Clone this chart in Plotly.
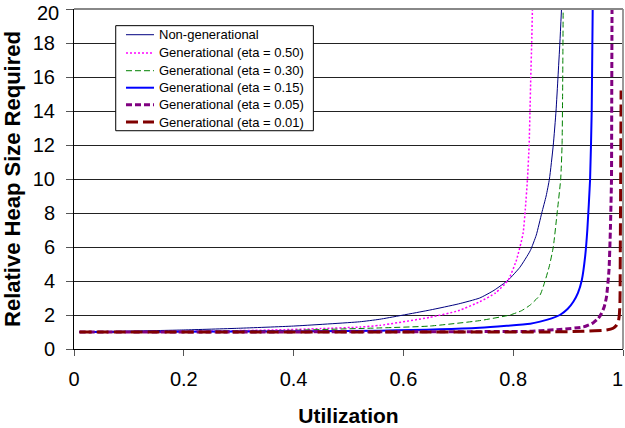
import plotly.graph_objects as go

names = ["Non-generational", "Generational (eta = 0.50)", "Generational (eta = 0.30)",
         "Generational (eta = 0.15)", "Generational (eta = 0.05)", "Generational (eta = 0.01)"]

u_nongen = [0.01, 0.1, 0.2, 0.3, 0.4, 0.52, 0.557, 0.648, 0.70, 0.739, 0.765, 0.791, 0.812, 0.831, 0.842, 0.852, 0.860, 0.866, 0.873, 0.878, 0.8816, 0.885, 0.888]
h_nongen = [1.0, 1.05, 1.12, 1.22, 1.35, 1.6, 1.75, 2.29, 2.65, 3.0, 3.45, 4.06, 4.8, 5.78, 6.7, 8.0, 9.0, 10, 12, 14, 16, 18, 20]

u_e50 = [0.01, 0.2, 0.363, 0.45, 0.521, 0.557, 0.648, 0.70, 0.739, 0.768, 0.791, 0.806, 0.818, 0.822, 0.826, 0.829, 0.8306, 0.832, 0.8337, 0.835]
h_e50 = [1.0, 1.03, 1.12, 1.2, 1.29, 1.39, 1.86, 2.25, 2.78, 3.3, 4.06, 5.24, 6.8, 8.2, 10, 12, 14, 16, 18, 20]

u_e30 = [0.01, 0.2, 0.393, 0.557, 0.648, 0.739, 0.794, 0.815, 0.831, 0.849, 0.858, 0.866, 0.873, 0.880, 0.8865, 0.889, 0.890, 0.891]
h_e30 = [1.0, 1.03, 1.1, 1.24, 1.35, 1.67, 2.0, 2.25, 2.59, 3.18, 4.0, 4.9, 6.0, 8.0, 10, 12, 15, 20]

u_e15 = [0.01, 0.3, 0.557, 0.739, 0.831, 0.849, 0.870, 0.885, 0.899, 0.9095, 0.918, 0.925, 0.931, 0.935, 0.940, 0.943, 0.9448]
h_e15 = [1.0, 1.03, 1.08, 1.25, 1.49, 1.61, 1.8, 2.0, 2.35, 2.78, 3.3, 4.06, 5.43, 7.0, 9.94, 14, 20]

u_e05 = [0.01, 0.5, 0.83, 0.849, 0.885, 0.928, 0.946, 0.955, 0.961, 0.966, 0.970, 0.9745, 0.977, 0.979, 0.9795, 0.980]
h_e05 = [1.0, 1.01, 1.04, 1.08, 1.15, 1.3, 1.55, 1.8, 2.1, 2.5, 3.08, 4.65, 7.0, 9.94, 15, 20]

u_e01 = [0.01, 0.5, 0.85, 0.928, 0.970, 0.982, 0.9885, 0.9915, 0.9933, 0.9945, 0.9951, 0.9958, 0.9965]
h_e01 = [1.0, 1.0, 1.0, 1.04, 1.12, 1.22, 1.41, 1.6, 2.0, 2.78, 6.0, 9.94, 15.2]

x_ticks = [0, 0.2, 0.4, 0.6, 0.8, 1]
x_ticklabels = ["0", "0.2", "0.4", "0.6", "0.8", "1"]
y_ticks = [0, 2, 4, 6, 8, 10, 12, 14, 16, 18, 20]
y_ticklabels = [str(v) for v in y_ticks]

series = [
    (u_nongen, h_nongen, "#000080", 1, "solid"),
    (u_e50, h_e50, "#FF00FF", 1.5, "2px,2px"),
    (u_e30, h_e30, "#008000", 1, "6px,3px"),
    (u_e15, h_e15, "#0000FF", 2, "solid"),
    (u_e05, h_e05, "#800080", 3, "6px,3px"),
    (u_e01, h_e01, "#800000", 3, "12px,5px"),
]

fig = go.Figure()
for name, (u, h, col, w, dash) in zip(names, series):
    fig.add_trace(go.Scatter(x=u, y=h, mode="lines", name=name, showlegend=False,
                             line=dict(color=col, width=w, dash=dash,
                                       shape="spline", smoothing=0.5)))

font_family = "Liberation Sans, Arial, sans-serif"
# edge labels ("1" on x, "20" on y) are placed as annotations so they stay inside the page
x_text_axis = x_ticklabels[:-1] + [""]
y_text_axis = y_ticklabels[:-1] + [""]

fig.update_layout(
    width=625, height=428,
    margin=dict(l=74, r=2, t=9, b=79),
    paper_bgcolor="white", plot_bgcolor="white",
    font=dict(family=font_family, color="black", size=20),
    showlegend=False,
    xaxis=dict(range=[0, 1], tickvals=x_ticks, ticktext=x_text_axis, automargin=False,
               showgrid=False, zeroline=False, showline=True, linecolor="black",
               linewidth=1, ticks="outside", ticklen=6, tickcolor="#555",
               tickfont=dict(size=20), ticklabelstandoff=6,
               title=dict(text="<b>Utilization</b>", font=dict(size=21), standoff=19)),
    yaxis=dict(range=[0, 20], tickvals=y_ticks, ticktext=y_text_axis, showgrid=True, gridcolor="#222",
               gridwidth=1, zeroline=False, showline=True, linecolor="black", automargin=False,
               linewidth=1, ticks="outside", ticklen=7, tickcolor="#555",
               tickfont=dict(size=20), ticklabelstandoff=7,
               title=dict(text="<b>Relative Heap Size Required</b>", font=dict(size=22), standoff=9)),
)
fig.add_annotation(xref="paper", yref="paper", x=1, y=0, text=x_ticklabels[-1], showarrow=False,
                   xanchor="right", yanchor="top", xshift=2, yshift=-17,
                   font=dict(size=20, family=font_family))
fig.add_annotation(xref="paper", yref="paper", x=0, y=1, text=y_ticklabels[-1], showarrow=False,
                   xanchor="right", yanchor="top", xshift=-13, yshift=9,
                   font=dict(size=20, family=font_family))

fig.add_shape(type="line", xref="paper", yref="paper", x0=1, x1=1, y0=0, y1=1,
              line=dict(color="#999999", width=2))
fig.add_shape(type="line", xref="paper", yref="paper", x0=0, x1=1, y0=1, y1=1,
              line=dict(color="#888888", width=2))

# legend drawn as a box with line samples and labels
leg_x0, leg_x1, leg_y0, leg_y1 = 0.076, 0.436, 0.642, 0.951
fig.add_shape(type="rect", xref="paper", yref="paper", x0=leg_x0, x1=leg_x1, y0=leg_y0, y1=leg_y1,
              fillcolor="white", line=dict(color="black", width=1), layer="above")
entry_y = [0.9244, 0.8706, 0.8185, 0.7685, 0.7185, 0.6676]
for name, (u, h, col, w, dash), ey in zip(names, series, entry_y):
    fig.add_shape(type="line", xref="paper", yref="paper", x0=0.0947, x1=0.1457, y0=ey, y1=ey,
                  line=dict(color=col, width=w, dash=dash), layer="above")
    fig.add_annotation(xref="paper", yref="paper", x=0.1506, y=ey, text=name, showarrow=False,
                       xanchor="left", yanchor="middle", font=dict(size=13, family=font_family))

fig.write_html("out.html", post_script="document.body.style.margin='0';",
               config={"displayModeBar": False})
